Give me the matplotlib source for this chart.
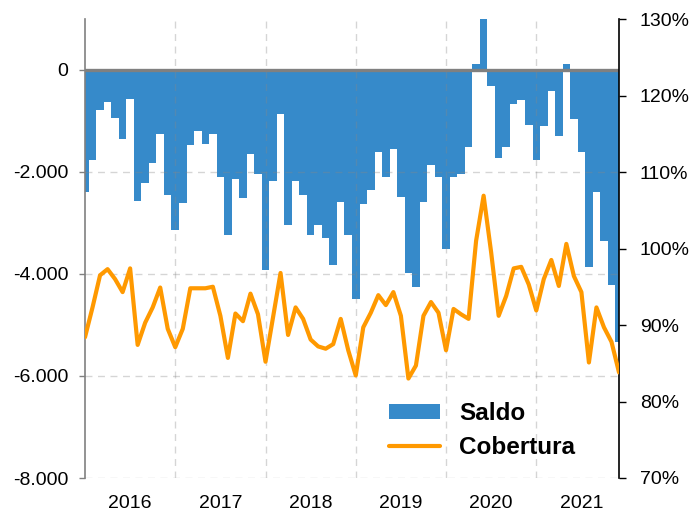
import matplotlib
matplotlib.use("Agg")
import matplotlib.pyplot as plt
from matplotlib.patches import Patch
from matplotlib.lines import Line2D
from matplotlib.ticker import FuncFormatter
import numpy as np

plt.rcParams['font.family'] = ['Liberation Sans', 'DejaVu Sans']

# Monthly data, Jan 2016 .. Dec 2021
saldo = [-2385, -1768, -780, -637, -942, -1346, -572, -2574, -2223, -1820, -1261, -2444,
         -3133, -2600, -1476, -1196, -1443, -1261, -2106, -3230, -2139, -2509, -1638, -2041,
         -3920, -2171, -858, -3042, -2171, -2457, -3230, -3042, -3302, -3829, -2580, -3230,
         -4485, -2633, -2360, -1606, -2100, -1547, -2483, -3985, -4264, -2580, -1859, -2100,
         -3503, -2100, -2041, -1501, 117, 1000, -319, -1729, -1501, -670, -598, -1072,
         -1761, -1105, -410, -1294, 117, -962, -1606, -3855, -2392, -3360, -4206, -5330]
cobertura = [88.4, 92.3, 96.5, 97.3, 96.0, 94.3, 97.4, 87.4, 90.3, 92.3, 94.9, 89.5,
             87.1, 89.5, 94.8, 94.8, 94.8, 95.0, 91.2, 85.7, 91.5, 90.5, 94.1, 91.4,
             85.2, 91.0, 96.8, 88.7, 92.3, 90.8, 88.1, 87.2, 86.9, 87.5, 90.8, 86.7,
             83.4, 89.7, 91.6, 93.9, 92.6, 94.3, 91.2, 83.0, 84.7, 91.2, 93.0, 91.6,
             86.7, 92.1, 91.4, 90.8, 101.0, 106.9, 99.5, 91.2, 93.8, 97.4, 97.6, 95.3,
             91.9, 96.0, 98.5, 95.1, 100.6, 96.4, 94.3, 85.1, 92.3, 89.7, 87.8, 83.8]
years = ['2016', '2017', '2018', '2019', '2020', '2021']

blue = '#368ACA'
orange = '#FF9900'

fig = plt.figure(figsize=(6.93, 5.14), dpi=100)
ax = fig.add_axes([85/693, 1-478/514, (619-85)/693, (478-19)/514])
x = np.arange(len(saldo))
ax.bar(x, saldo, width=1.0, color=blue, linewidth=0, zorder=2)
ax.set_xlim(0, len(saldo)-1)
ax.set_ylim(-8000, 1000)
ax.set_yticks([-8000, -6000, -4000, -2000, 0])
ax.yaxis.set_major_formatter(FuncFormatter(lambda v, p: f"{int(v):,}".replace(',', '.')))
ax.axhline(0, color='#808080', lw=2.4, zorder=4)
for yv in [-8000, -6000, -4000, -2000]:
    ax.axhline(yv, color='#888888', alpha=0.35, lw=1.0, ls=(0, (5, 4)), zorder=3)
for xv in range(12, len(saldo), 12):
    ax.axvline(xv, color='#888888', alpha=0.35, lw=1.0, ls=(0, (5, 4)), zorder=3)
ax.set_xticks([6 + 12*i for i in range(len(years))])
ax.set_xticklabels(years)
ax.tick_params(axis='x', length=0, pad=12, labelsize=14)
ax.tick_params(axis='y', length=4, width=1, color='#808080', pad=8, labelsize=14)
for s in ['top', 'bottom', 'right']:
    ax.spines[s].set_visible(False)
ax.spines['left'].set_color('#808080')
ax.spines['left'].set_linewidth(1.2)

ax2 = ax.twinx()
ax2.plot(x, cobertura, color=orange, lw=3.0, solid_joinstyle='round', solid_capstyle='round', zorder=5)
ax2.set_ylim(70, 130)
ax2.set_yticks(range(70, 131, 10))
ax2.yaxis.set_major_formatter(FuncFormatter(lambda v, p: f"{int(v)}%"))
ax2.tick_params(axis='y', length=5, width=1, color='black', pad=10, labelsize=14)
for s in ['top', 'bottom', 'left']:
    ax2.spines[s].set_visible(False)
ax2.spines['right'].set_color('black')
ax2.spines['right'].set_linewidth(1.2)

handles = [Patch(facecolor=blue, edgecolor='none'),
           Line2D([0], [0], color=orange, lw=3.0, solid_capstyle='round')]
leg = ax2.legend(handles, ['Saldo', 'Cobertura'], loc='upper left',
                 bbox_to_anchor=(389/693, 1-402/514), bbox_transform=fig.transFigure,
                 frameon=False, prop={'weight': 'bold', 'size': 17.5},
                 handlelength=2.1, handleheight=0.55, handletextpad=0.8,
                 labelspacing=0.45, borderpad=0, borderaxespad=0)

fig.savefig('out.png', dpi=100)
